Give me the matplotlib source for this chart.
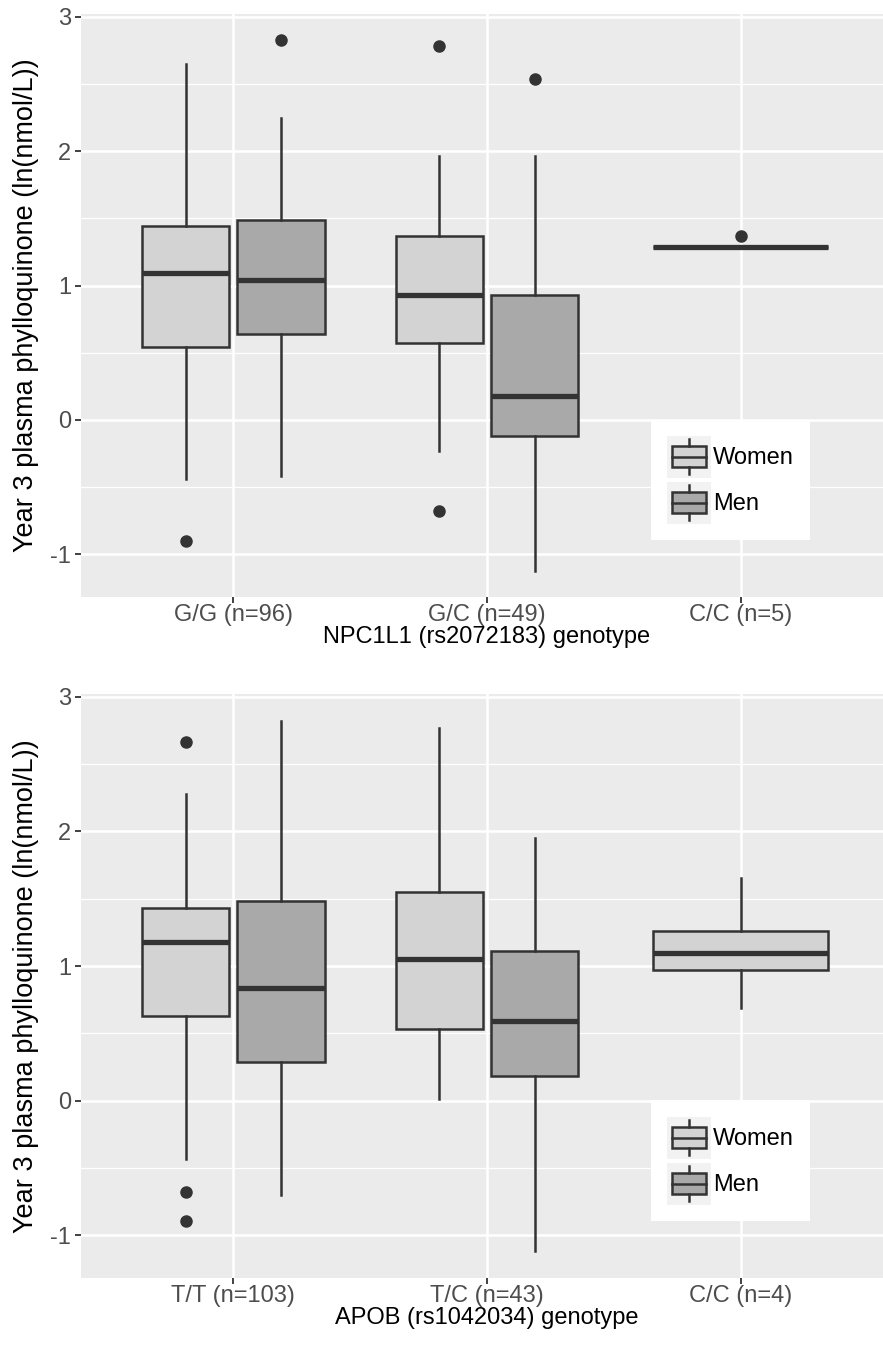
import numpy as np
import matplotlib
matplotlib.use('Agg')
import matplotlib.pyplot as plt
from matplotlib.patches import Rectangle, Patch
from matplotlib.lines import Line2D
from matplotlib.legend_handler import HandlerBase

plt.rcParams['font.family'] = ['Liberation Sans', 'DejaVu Sans']

# ---- data ----
top_labels = ['G/G (n=96)', 'G/C (n=49)', 'C/C (n=5)']
top_xlabel = 'NPC1L1 (rs2072183) genotype'
# women: G/G, G/C, C/C
top_w_lo  = [-0.44, -0.23, 1.29]
top_w_q1  = [0.54, 0.57, 1.29]
top_w_med = [1.09, 0.93, 1.29]
top_w_q3  = [1.44, 1.37, 1.29]
top_w_hi  = [2.65, 1.96, 1.29]
top_w_out = [[-0.90], [2.78, -0.68], [1.37]]
# men: G/G, G/C
top_m_lo  = [-0.42, -1.12]
top_m_q1  = [0.64, -0.12]
top_m_med = [1.04, 0.18]
top_m_q3  = [1.49, 0.93]
top_m_hi  = [2.25, 1.96]
top_m_out = [[2.83], [2.54]]

bot_labels = ['T/T (n=103)', 'T/C (n=43)', 'C/C (n=4)']
bot_xlabel = 'APOB (rs1042034) genotype'
bot_w_lo  = [-0.43, 0.01, 0.69]
bot_w_q1  = [0.63, 0.53, 0.97]
bot_w_med = [1.18, 1.05, 1.10]
bot_w_q3  = [1.43, 1.55, 1.26]
bot_w_hi  = [2.28, 2.77, 1.65]
bot_w_out = [[2.66, -0.68, -0.89], [], []]
bot_m_lo  = [-0.70, -1.12]
bot_m_q1  = [0.29, 0.18]
bot_m_med = [0.84, 0.59]
bot_m_q3  = [1.48, 1.11]
bot_m_hi  = [2.82, 1.95]
bot_m_out = [[], []]

ylab = 'Year 3 plasma phylloquinone (ln(nmol/L))'
women_col = '#D3D3D3'
men_col = '#A9A9A9'
edge = '#333333'


def stats(lo, q1, med, q3, hi, out):
    return [dict(whislo=a, q1=b, med=c, q3=d, whishi=e, fliers=f)
            for a, b, c, d, e, f in zip(lo, q1, med, q3, hi, out)]


class BoxHandler(HandlerBase):
    def create_artists(self, legend, orig, xd, yd, w, h, fs, trans):
        fc = orig.get_facecolor()
        bg = Rectangle((-xd, -yd), w, h, fc='#F2F2F2', ec='none', transform=trans)
        bx0, bw = -xd + w * 0.12, w * 0.76
        by0, bh = -yd + h * 0.25, h * 0.5
        box = Rectangle((bx0, by0), bw, bh, fc=fc, ec=edge, lw=1.8, transform=trans)
        cx = -xd + w / 2
        med = Line2D([bx0, bx0 + bw], [by0 + bh / 2] * 2, color=edge, lw=1.8, transform=trans)
        wt = Line2D([cx, cx], [by0 + bh, -yd + h * 0.92], color=edge, lw=1.8, transform=trans)
        wb = Line2D([cx, cx], [-yd + h * 0.08, by0], color=edge, lw=1.8, transform=trans)
        return [bg, box, med, wt, wb]


def panel(ax, labels, xlabel, wstats, mstats):
    ax.set_facecolor('#EBEBEB')
    props = dict(patch_artist=True, showcaps=False, manage_ticks=False,
                 boxprops=dict(edgecolor=edge, linewidth=1.8),
                 whiskerprops=dict(color=edge, linewidth=1.8),
                 medianprops=dict(color=edge, linewidth=3.8, solid_capstyle='butt'),
                 flierprops=dict(marker='o', markersize=8, markerfacecolor=edge,
                                 markeredgecolor=edge))
    cats = np.arange(1, len(labels) + 1)
    nm = len(mstats)
    wpos = [c - 0.1875 if i < nm else c for i, c in enumerate(cats)]
    wwid = [0.345 if i < nm else 0.69 for i in range(len(cats))]
    bw = ax.bxp(wstats, positions=wpos, widths=wwid, **props)
    bm = ax.bxp(mstats, positions=cats[:nm] + 0.1875, widths=0.345, **props)
    for p in bw['boxes']:
        p.set_facecolor(women_col)
    for p in bm['boxes']:
        p.set_facecolor(men_col)
    ax.set_xlim(0.4, 3.6)
    ax.set_ylim(-1.317, 3.02)
    ax.set_xticks(cats)
    ax.set_xticklabels(labels)
    ax.set_yticks([-1, 0, 1, 2, 3])
    ax.set_yticklabels(['-1', '0', '1', '2', '3'])
    ax.set_yticks(np.arange(-1, 3.01, 0.5), minor=True)
    ax.grid(which='major', color='white', linewidth=1.8)
    ax.grid(which='minor', axis='y', color='white', linewidth=0.9)
    ax.set_axisbelow(True)
    for s in ax.spines.values():
        s.set_visible(False)
    ax.tick_params(which='major', length=4, width=1.3, color=edge,
                   labelcolor='#4D4D4D', labelsize=17)
    ax.tick_params(axis='x', pad=1)
    ax.tick_params(axis='y', pad=3)
    ax.tick_params(which='minor', length=0)
    ax.set_xlabel(xlabel, fontsize=17, labelpad=0)
    ax.set_ylabel(ylab, fontsize=19.5, labelpad=8)
    handles = [Patch(facecolor=women_col), Patch(facecolor=men_col)]
    leg = ax.legend(handles, ['Women', 'Men'], handler_map={Patch: BoxHandler()},
                    loc='upper left', bbox_to_anchor=(0.702, 0.304), borderaxespad=0,
                    fontsize=17, handlelength=1.86, handleheight=2.36,
                    labelspacing=0.17, handletextpad=0.1, borderpad=0.68,
                    fancybox=False, framealpha=1, edgecolor='white')
    leg.get_frame().set_linewidth(0)


fig = plt.figure(figsize=(8.83, 13.47), dpi=100)
ax1 = fig.add_axes([81 / 883, 1 - 597 / 1347, 812 / 883, 583 / 1347])
ax2 = fig.add_axes([81 / 883, 1 - 1278 / 1347, 812 / 883, 584 / 1347])

panel(ax1, top_labels, top_xlabel,
      stats(top_w_lo, top_w_q1, top_w_med, top_w_q3, top_w_hi, top_w_out),
      stats(top_m_lo, top_m_q1, top_m_med, top_m_q3, top_m_hi, top_m_out))
panel(ax2, bot_labels, bot_xlabel,
      stats(bot_w_lo, bot_w_q1, bot_w_med, bot_w_q3, bot_w_hi, bot_w_out),
      stats(bot_m_lo, bot_m_q1, bot_m_med, bot_m_q3, bot_m_hi, bot_m_out))

fig.savefig('out.png', dpi=100)
